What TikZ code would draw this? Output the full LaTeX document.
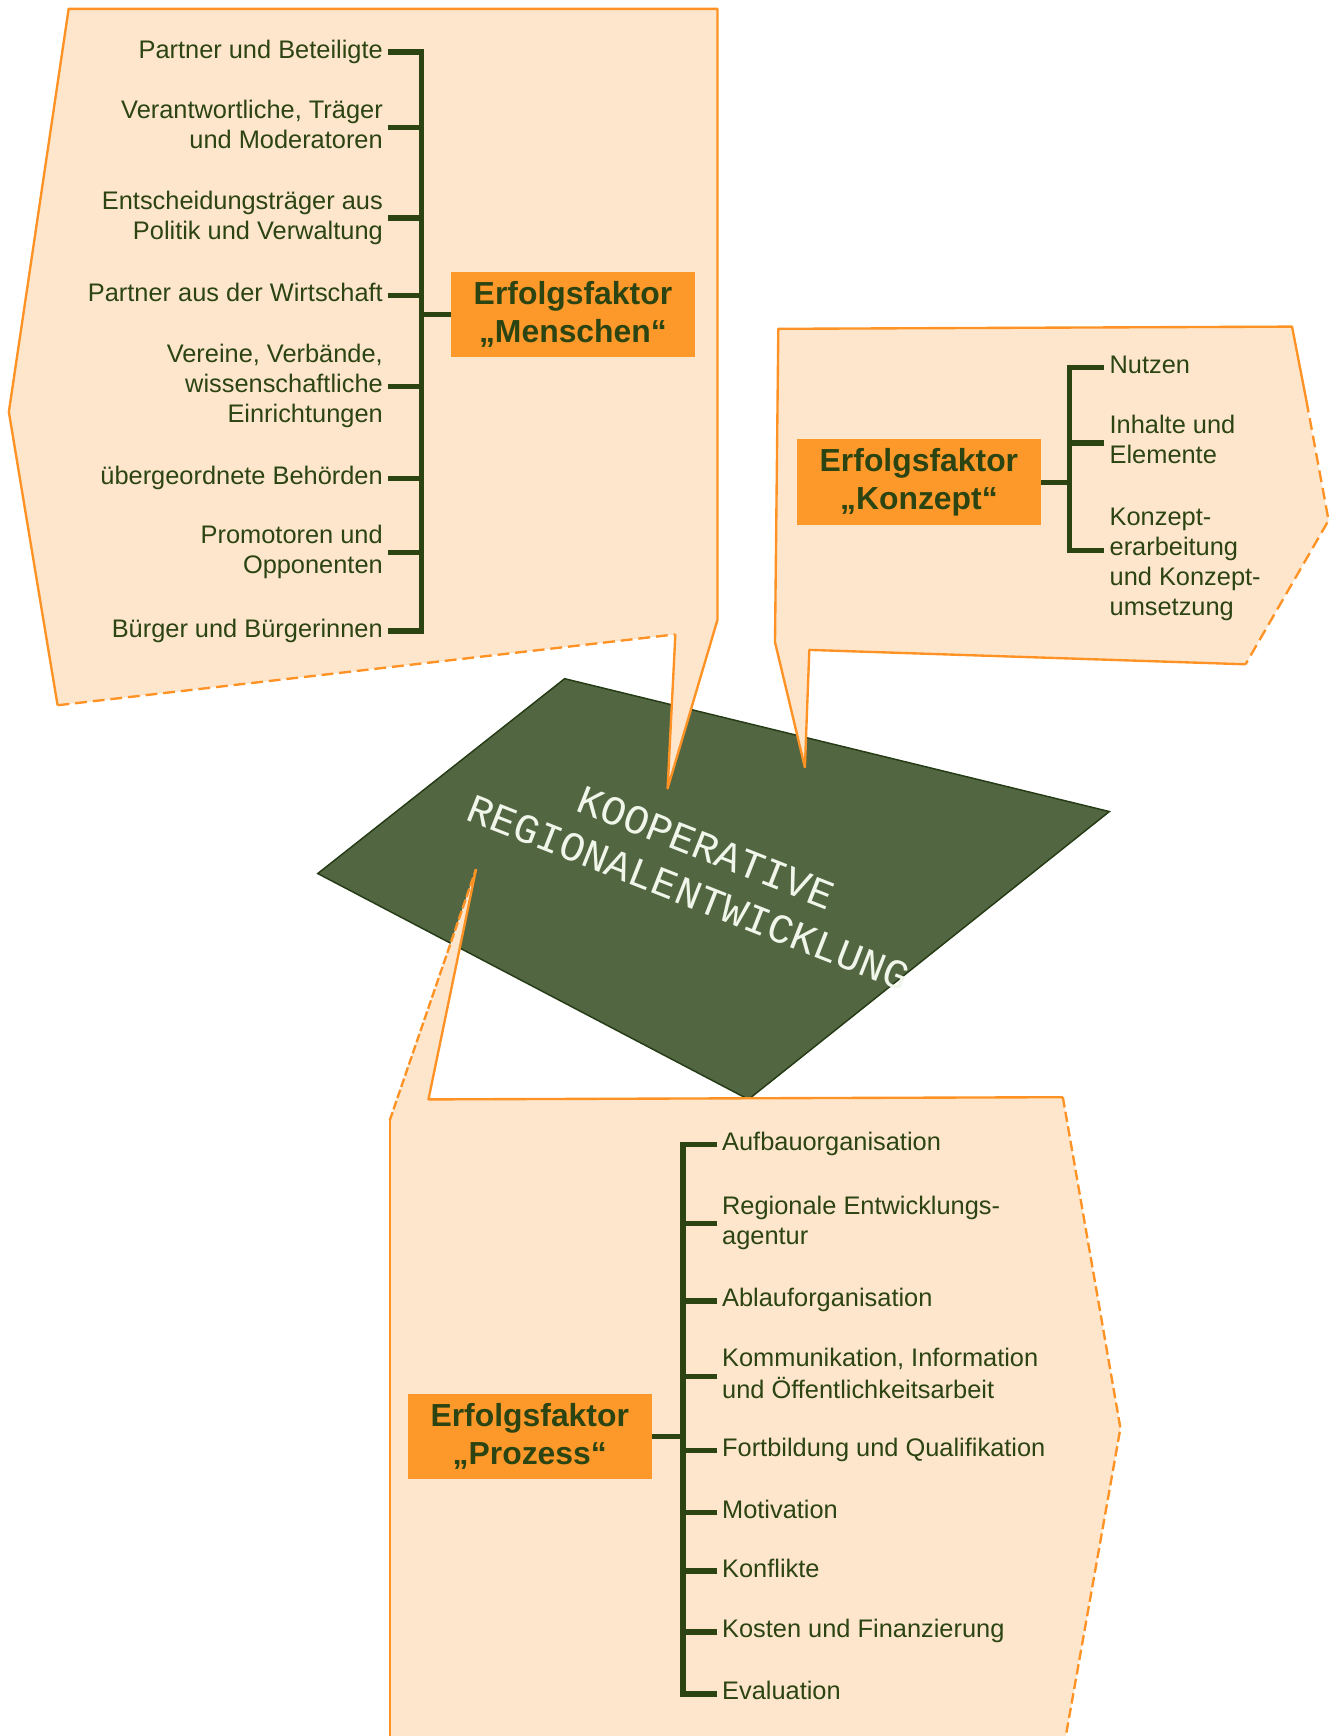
\documentclass[tikz,border=0pt]{standalone}
\usepackage{fontspec}
\setmainfont{Liberation Sans}
\newfontfamily\platefont{Liberation Mono}
\usetikzlibrary{calc}
\definecolor{peach}{RGB}{254,230,205}
\definecolor{orangeline}{RGB}{255,146,36}
\definecolor{titlebg}{RGB}{253,153,42}
\definecolor{dkgreen}{RGB}{43,68,18}
\definecolor{platefill}{RGB}{82,102,65}
\definecolor{plateedge}{RGB}{38,60,22}
\newcommand\itm[1]{\strut#1\strut}
\begin{document}
\begin{tikzpicture}[x=0.75pt,y=-0.75pt,
  calloutfill/.style={fill=peach},
  edgeline/.style={draw=orangeline,line width=1.6pt,line join=round},
  dashline/.style={edgeline,dash pattern=on 8pt off 4pt},
  item/.style={font=\fontsize{17.2}{20.3}\selectfont,text=dkgreen,inner sep=0pt},
  titlebox/.style={fill=titlebg,text=dkgreen,font=\bfseries\fontsize{21.6}{25.5}\selectfont,
    align=center,minimum width=165pt,minimum height=58pt,inner sep=0pt},
  br/.style={draw=dkgreen,line width=3.6pt},
  barline/.style={br,line cap=rect},
  platetxt/.style={font=\platefont\fontsize{28}{33}\selectfont,text={rgb,255:red,240;green,246;blue,234},inner sep=0pt,rotate=-21.5}
]
\useasboundingbox (0,0) rectangle (1205,1568);
\clip (0,0) rectangle (1205,1568);

% central plate
\path[draw=plateedge,fill=platefill,line width=1pt] (510,613) -- (1002,733) -- (676,993) -- (287,789) -- cycle;
\node[platetxt,align=left] (plate) at (630,786) {\hspace*{67pt}KOOPERATIVE\\REGIONALENTWICKLUNG};

% callout Menschen
\fill[calloutfill] (62,8) -- (648,8) -- (648,560) -- (603,712) -- (610,573) -- (52,637) -- (8,372) -- cycle;
\draw[edgeline] (610,573) -- (603,712) -- (648,560) -- (648,8) -- (62,8) -- (8,372) -- (52,637);
\draw[dashline] (52,637) -- (610,573);

% callout Konzept
\fill[calloutfill] (703,297) -- (1167,295) -- (1200,470) -- (1125,600) -- (731,587) -- (727,693) -- (700,580) -- cycle;
\draw[edgeline] (1180,362) -- (1167,295) -- (703,297) -- (700,580) -- (727,693) -- (731,587) -- (1125,600);
\draw[dashline] (1180,362) -- (1200,470) -- (1125,600);

% callout Prozess
\fill[calloutfill] (387,993) -- (960,991) -- (1012,1290) -- (957,1600) -- (352,1600) -- (352,1012) -- (430,785) -- cycle;
\draw[edgeline] (352,1600) -- (352,1012);
\draw[edgeline,dash pattern=on 6pt off 2pt] (352,1012) -- (430,785);
\draw[edgeline] (430,785) -- (387,993) -- (960,991);
\draw[dashline,dash pattern=on 7pt off 3pt] (960,991) -- (1012,1290) -- (957,1600);

% ---------- Menschen ----------
\node[titlebox] (tm) at (517.5,284) {Erfolgsfaktor\\„Menschen“};
\coordinate (barM) at (381,0);
\node[item,align=right,anchor=east] (m1) at (346,47) {\itm{Partner und Beteiligte}};
\node[item,align=right,anchor=east] (m2) at (346,115) {\itm{Verantwortliche, Träger\\und Moderatoren}};
\node[item,align=right,anchor=east] (m3) at (346,197) {\itm{Entscheidungsträger aus\\Politik und Verwaltung}};
\node[item,align=right,anchor=east] (m4) at (346,267) {\itm{Partner aus der Wirtschaft}};
\node[item,align=right,anchor=east] (m5) at (346,349) {\itm{Vereine, Verbände,\\wissenschaftliche\\Einrichtungen}};
\node[item,align=right,anchor=east] (m6) at (346,432) {\itm{übergeordnete Behörden}};
\node[item,align=right,anchor=east] (m7) at (346,499) {\itm{Promotoren und\\Opponenten}};
\node[item,align=right,anchor=east] (m8) at (346,570) {\itm{Bürger und Bürgerinnen}};
\draw[barline] (m1.east -| barM) -- (m8.east -| barM);
\foreach \n in {m1,m2,m3,m4,m5,m6,m7,m8}
  \draw[br] ($(\n.east)+(4,0)$) -- (\n.east -| barM);
\draw[br] (tm.west) -- (tm.west -| barM);

% ---------- Konzept ----------
\node[titlebox] (tk) at (830,435.5) {Erfolgsfaktor\\„Konzept“};
\coordinate (barK) at (966,0);
\node[item,align=left,anchor=west] (k1) at (1002,332) {\itm{Nutzen}};
\node[item,align=left,anchor=west] (k2) at (1002,400) {\itm{Inhalte und\\Elemente}};
\node[item,align=left,anchor=west] (k3) at (1002,510) {\itm{Konzept-\\erarbeitung\\und Konzept-\\umsetzung}};
\coordinate (k3t) at ($(k3.west)+(0,-13)$);
\draw[barline] (k1.west -| barK) -- (k3t -| barK);
\draw[br] ($(k1.west)+(-5,0)$) -- (k1.west -| barK);
\draw[br] ($(k2.west)+(-5,0)$) -- (k2.west -| barK);
\draw[br] ($(k3t)+(-5,0)$) -- (k3t -| barK);
\draw[br] (tk.east) -- (tk.east -| barK);

% ---------- Prozess ----------
\node[titlebox] (tp) at (478.5,1297.5) {Erfolgsfaktor\\„Prozess“};
\coordinate (barP) at (617,0);
\node[item,align=left,anchor=west] (p1) at (652,1034) {\itm{Aufbauorganisation}};
\node[item,align=left,anchor=west] (p2) at (652,1105) {\itm{Regionale Entwicklungs-\\agentur}};
\node[item,align=left,anchor=west] (p3) at (652,1175) {\itm{Ablauforganisation}};
\node[item,align=left,anchor=west] (p4) at (652,1243) {\itm{Kommunikation, Information\\und Öffentlichkeitsarbeit}};
\node[item,align=left,anchor=west] (p5) at (652,1310) {\itm{Fortbildung und Qualifikation}};
\node[item,align=left,anchor=west] (p6) at (652,1366) {\itm{Motivation}};
\node[item,align=left,anchor=west] (p7) at (652,1419) {\itm{Konflikte}};
\node[item,align=left,anchor=west] (p8) at (652,1474) {\itm{Kosten und Finanzierung}};
\node[item,align=left,anchor=west] (p9) at (652,1530) {\itm{Evaluation}};
\draw[barline] (p1.west -| barP) -- (p9.west -| barP);
\foreach \n in {p1,p2,p3,p4,p5,p6,p7,p8,p9}
  \draw[br] ($(\n.west)+(-4,0)$) -- (\n.west -| barP);
\draw[br] (tp.east) -- (tp.east -| barP);
\end{tikzpicture}
\end{document}
